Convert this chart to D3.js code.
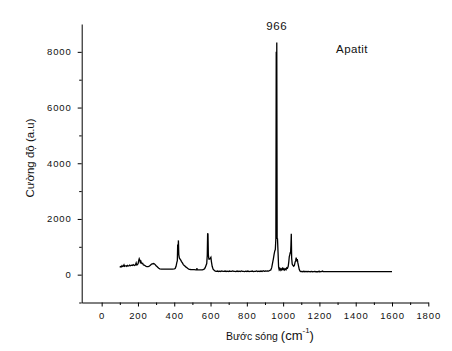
<!DOCTYPE html>
<html>
<head>
<meta charset="utf-8">
<script src="https://cdn.jsdelivr.net/npm/d3@7"></script>
<style>
  body { margin: 0; background: #fff; }
  svg text { font-family: "Liberation Sans", Arial, sans-serif; fill: #111; }
</style>
</head>
<body>
<div id="chart"></div>
<script>
// Raman spectrum of apatite
const wavenumber = [
  100, 104, 108, 112, 115, 119, 123, 126, 130, 134, 138, 142, 146, 150, 154, 158, 162, 166, 170, 174,
  178, 182, 186, 190, 193, 197, 201, 204, 207, 210, 213, 216, 219, 222, 226, 230, 235, 240, 245, 250,
  255, 260, 265, 270, 275, 280, 285, 290, 295, 300, 305, 310, 315, 320, 330, 340, 350, 360, 370, 380,
  390, 400, 405, 410, 414, 417, 419, 421, 423, 425, 428, 432, 436, 440, 445, 450, 455, 460, 465, 470,
  475, 480, 490, 500, 510, 520, 524, 525, 526, 535, 545, 555, 562, 567, 571, 575, 579, 582, 584, 586,
  588, 591, 595, 599, 602, 605, 609, 614, 620, 626, 632, 638, 644, 650, 656, 662, 668, 674, 680, 686,
  692, 698, 704, 710, 716, 722, 728, 734, 740, 746, 752, 758, 764, 770, 776, 782, 788, 794, 800, 806,
  812, 818, 824, 830, 836, 842, 848, 854, 860, 866, 872, 878, 884, 890, 896, 902, 908, 914, 920, 926,
  932, 937, 942, 946, 950, 954, 957, 960, 962, 963, 965, 967, 969, 972, 975, 978, 981, 984, 988, 992,
  996, 1000, 1004, 1008, 1012, 1016, 1020, 1024, 1028, 1031, 1034, 1037, 1039, 1041, 1043, 1045, 1047, 1050, 1054, 1058,
  1062, 1066, 1069, 1072, 1075, 1078, 1081, 1085, 1089, 1093, 1097, 1102, 1108, 1114, 1120, 1126, 1132, 1138, 1144, 1150,
  1156, 1162, 1168, 1174, 1180, 1186, 1192, 1198, 1200, 1210, 1218, 1220, 1230, 1300, 1400, 1500, 1600
];
const intensity = [
  260, 290, 280, 320, 290, 300, 350, 300, 310, 320, 300, 330, 310, 320, 340, 320, 330, 340, 330, 360,
  340, 330, 350, 420, 350, 360, 400, 500, 570, 520, 440, 480, 420, 400, 410, 350, 340, 320, 300, 290,
  290, 300, 320, 350, 380, 390, 400, 390, 360, 320, 290, 260, 230, 210, 200, 195, 195, 195, 195, 195,
  195, 205, 220, 300, 430, 500, 1080, 850, 1230, 720, 600, 560, 520, 470, 420, 360, 330, 300, 270, 250,
  220, 200, 185, 180, 180, 175, 175, 240, 175, 175, 175, 175, 185, 210, 260, 330, 400, 700, 1490, 1450,
  700, 560, 560, 590, 620, 460, 300, 200, 160, 130, 120, 130, 115, 125, 115, 135, 120, 115, 130, 115,
  125, 110, 130, 120, 115, 135, 115, 120, 110, 130, 115, 125, 110, 135, 115, 120, 110, 125, 115, 130,
  110, 120, 115, 130, 110, 120, 115, 135, 110, 125, 115, 130, 115, 140, 120, 130, 125, 135, 130, 150,
  170, 250, 420, 560, 720, 850, 900, 1300, 8000, 1500, 8340, 1300, 1290, 800, 270, 180, 220, 160, 210, 170,
  230, 180, 220, 170, 210, 180, 250, 230, 300, 450, 650, 720, 800, 760, 1050, 1470, 600, 380, 330, 300,
  330, 450, 500, 610, 480, 560, 430, 310, 180, 130, 110, 115, 105, 120, 105, 115, 105, 120, 110, 105,
  115, 105, 110, 120, 105, 110, 105, 125, 105, 110, 130, 110, 110, 110, 110, 110, 110
];

const xTicks = [0, 200, 400, 600, 800, 1000, 1200, 1400, 1600, 1800];
const xMinorTicks = [100, 300, 500, 700, 900, 1100, 1300, 1500, 1700];
const yTicks = [0, 2000, 4000, 6000, 8000];
const yMinorTicks = [-1000, 1000, 3000, 5000, 7000];

const peakLabel = "966";
const sampleLabel = "Apatit";

const width = 452, height = 351;

const svg = d3.select("#chart").append("svg")
    .attr("width", width)
    .attr("height", height);

const x = d3.scaleLinear().domain([-110, 1800]).range([81.7, 428.3]);
const y = d3.scaleLinear().domain([-1000, 9000]).range([302.5, 24]);

const fmt = d3.format("d");

// bottom axis
const xAxis = svg.append("g")
    .attr("transform", `translate(0,${y.range()[0]})`)
    .call(d3.axisBottom(x).tickValues(xTicks).tickFormat(fmt).tickSize(4).tickSizeOuter(0).tickPadding(6));
svg.append("g")
    .attr("transform", `translate(0,${y.range()[0]})`)
    .call(d3.axisBottom(x).tickValues(xMinorTicks).tickFormat("").tickSize(2.5).tickSizeOuter(0))
    .select(".domain").remove();

// left axis
const yAxis = svg.append("g")
    .attr("transform", `translate(${x.range()[0]},0)`)
    .call(d3.axisLeft(y).tickValues(yTicks).tickFormat(fmt).tickSize(4).tickSizeOuter(0).tickPadding(6));
svg.append("g")
    .attr("transform", `translate(${x.range()[0]},0)`)
    .call(d3.axisLeft(y).tickValues(yMinorTicks).tickFormat("").tickSize(2.5).tickSizeOuter(0))
    .select(".domain").remove();

svg.selectAll(".domain, .tick line").attr("stroke", "#000").attr("stroke-width", 1);
svg.selectAll(".tick text")
    .style("font-family", "'Liberation Sans', Arial, sans-serif")
    .style("font-size", "9.5px")
    .style("letter-spacing", "0.9px")
    .attr("fill", "#111");

// spectrum line
const line = d3.line()
    .x((d, i) => x(wavenumber[i]))
    .y(d => y(d));

svg.append("path")
    .datum(intensity)
    .attr("d", line)
    .attr("fill", "none")
    .attr("stroke", "#000")
    .attr("stroke-width", 1.3)
    .attr("stroke-linejoin", "miter");

// annotations
const peakIndex = intensity.indexOf(d3.max(intensity));
svg.append("text")
    .attr("x", x(wavenumber[peakIndex]))
    .attr("y", 30)
    .attr("text-anchor", "middle")
    .style("font-size", "11.5px")
    .style("letter-spacing", "0.6px")
    .text(peakLabel);

svg.append("text")
    .attr("x", 352)
    .attr("y", 52.5)
    .attr("text-anchor", "middle")
    .style("font-size", "11.5px")
    .style("letter-spacing", "0.4px")
    .text(sampleLabel);

// axis titles
svg.append("text")
    .attr("transform", "translate(34,158) rotate(-90)")
    .attr("text-anchor", "middle")
    .style("font-size", "11.5px")
    .text("Cường độ (a.u)");

const xTitle = svg.append("text")
    .attr("x", 270)
    .attr("y", 340)
    .attr("text-anchor", "middle")
    .style("font-size", "10.5px");
xTitle.append("tspan").text("Bước sóng ");
xTitle.append("tspan").style("font-size", "13px").text("(cm");
xTitle.append("tspan").attr("dy", -7).style("font-size", "8px").text("-1");
xTitle.append("tspan").attr("dy", 7).style("font-size", "13px").text(")");
</script>
</body>
</html>
